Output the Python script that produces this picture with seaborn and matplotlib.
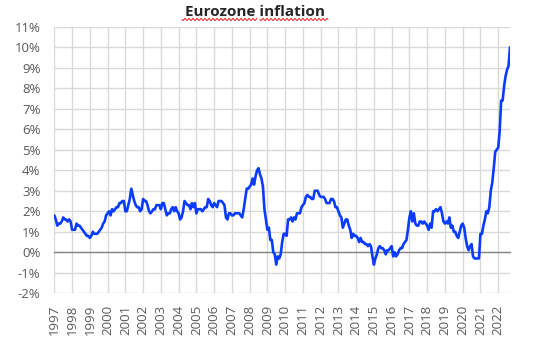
import numpy as np
import pandas as pd
import seaborn as sns
import matplotlib as mpl
import matplotlib.pyplot as plt

sns.set_style('white')
plt.rcParams['font.family'] = ['Open Sans', 'DejaVu Sans']

# euro area HICP, annual rate of change (%), monthly from Jan 1997
infl_1997 = [1.8, 1.6, 1.3, 1.4, 1.4, 1.5, 1.7, 1.6, 1.6, 1.5, 1.6, 1.5]
infl_1998 = [1.1, 1.1, 1.1, 1.4, 1.3, 1.3, 1.2, 1.1, 1.0, 0.9, 0.8, 0.8]
infl_1999 = [0.7, 0.8, 1.0, 0.9, 0.9, 0.9, 1.0, 1.1, 1.2, 1.4, 1.5, 1.8]
infl_2000 = [1.9, 2.0, 1.8, 2.1, 2.0, 2.1, 2.2, 2.2, 2.4, 2.4, 2.5, 2.5]
infl_2001 = [2.0, 2.0, 2.3, 2.6, 3.1, 2.8, 2.5, 2.3, 2.2, 2.2, 2.0, 2.1]
infl_2002 = [2.6, 2.5, 2.5, 2.3, 2.0, 1.9, 2.0, 2.1, 2.1, 2.3, 2.3, 2.3]
infl_2003 = [2.1, 2.4, 2.4, 2.1, 1.8, 1.9, 1.9, 2.1, 2.2, 2.0, 2.2, 2.0]
infl_2004 = [1.9, 1.6, 1.7, 2.0, 2.5, 2.4, 2.3, 2.3, 2.1, 2.4, 2.2, 2.4]
infl_2005 = [1.9, 2.1, 2.1, 2.1, 2.0, 2.1, 2.2, 2.2, 2.6, 2.5, 2.3, 2.2]
infl_2006 = [2.4, 2.3, 2.2, 2.5, 2.5, 2.5, 2.4, 2.3, 1.7, 1.6, 1.9, 1.9]
infl_2007 = [1.8, 1.8, 1.9, 1.9, 1.9, 1.9, 1.8, 1.7, 2.1, 2.6, 3.1, 3.1]
infl_2008 = [3.2, 3.3, 3.6, 3.3, 3.7, 4.0, 4.1, 3.8, 3.6, 3.2, 2.1, 1.6]
infl_2009 = [1.1, 1.2, 0.6, 0.6, 0.0, -0.1, -0.6, -0.2, -0.3, -0.1, 0.5, 0.9]
infl_2010 = [0.9, 0.8, 1.6, 1.6, 1.7, 1.5, 1.7, 1.6, 1.9, 1.9, 1.9, 2.2]
infl_2011 = [2.3, 2.4, 2.7, 2.8, 2.7, 2.7, 2.6, 2.6, 3.0, 3.0, 3.0, 2.8]
infl_2012 = [2.7, 2.7, 2.7, 2.6, 2.4, 2.4, 2.4, 2.6, 2.6, 2.5, 2.2, 2.2]
infl_2013 = [2.0, 1.8, 1.7, 1.2, 1.4, 1.6, 1.6, 1.3, 1.1, 0.7, 0.9, 0.8]
infl_2014 = [0.8, 0.7, 0.5, 0.7, 0.5, 0.5, 0.4, 0.4, 0.3, 0.4, 0.3, -0.2]
infl_2015 = [-0.6, -0.3, -0.1, 0.2, 0.3, 0.2, 0.2, 0.1, -0.1, 0.1, 0.1, 0.2]
infl_2016 = [0.3, -0.2, 0.0, -0.2, -0.1, 0.1, 0.2, 0.2, 0.4, 0.5, 0.6, 1.1]
infl_2017 = [1.7, 2.0, 1.5, 1.9, 1.4, 1.3, 1.3, 1.5, 1.5, 1.4, 1.5, 1.4]
infl_2018 = [1.3, 1.1, 1.4, 1.2, 2.0, 2.0, 2.1, 2.0, 2.1, 2.2, 1.9, 1.5]
infl_2019 = [1.4, 1.5, 1.4, 1.7, 1.2, 1.3, 1.0, 1.0, 0.8, 0.7, 1.0, 1.3]
infl_2020 = [1.4, 1.2, 0.7, 0.3, 0.1, 0.3, 0.4, -0.2, -0.3, -0.3, -0.3, -0.3]
infl_2021 = [0.9, 0.9, 1.3, 1.6, 2.0, 1.9, 2.2, 3.0, 3.4, 4.1, 4.9, 5.0]
infl_2022 = [5.1, 5.9, 7.4, 7.4, 8.1, 8.6, 8.9, 9.1, 10.0]

years = list(range(1997, 2023))
yticks = list(range(-2, 12))

values = (infl_1997 + infl_1998 + infl_1999 + infl_2000 + infl_2001 + infl_2002
          + infl_2003 + infl_2004 + infl_2005 + infl_2006 + infl_2007 + infl_2008
          + infl_2009 + infl_2010 + infl_2011 + infl_2012 + infl_2013 + infl_2014
          + infl_2015 + infl_2016 + infl_2017 + infl_2018 + infl_2019 + infl_2020
          + infl_2021 + infl_2022)

df = pd.DataFrame({'t': 1997 + np.arange(len(values)) / 12, 'infl': values})

fig = plt.figure(figsize=(5.38, 3.54), dpi=100)
ax = fig.add_axes([0.101, 0.1715, 0.847, 0.753])

sns.lineplot(data=df, x='t', y='infl', color='#0a3cff', linewidth=1.9, ax=ax, zorder=5)

ax.set_xlim(df['t'].iloc[0], df['t'].iloc[-1])
ax.set_ylim(-2, 11)
ax.set_yticks(yticks)
ax.set_yticklabels(['{}%'.format(v) for v in yticks])
ax.set_xticks(years)

ax.grid(True, color='#d9d9d9', linewidth=1.0)
ax.set_axisbelow(True)
for s in ['top', 'right', 'left']:
    ax.spines[s].set_visible(False)
ax.spines['bottom'].set_position(('data', 0))
ax.spines['bottom'].set_color('#868686')
ax.spines['bottom'].set_linewidth(1.0)
ax.spines['bottom'].set_zorder(3)

ax.tick_params(axis='y', length=0, pad=10, labelsize=9.5, labelcolor='#595959')
ax.tick_params(axis='x', direction='out', length=3.5, width=1.0, color='#868686',
               labelbottom=False)
ax.set_xlabel('')
ax.set_ylabel('')

# year labels sit under the plot, not on the 0% axis
sec = ax.secondary_xaxis(0.0)
sec.set_xticks(years)
sec.set_xticklabels([str(y) for y in years], rotation=90)
sec.tick_params(length=0, pad=8, labelsize=9.5, labelcolor='#595959')
sec.spines['bottom'].set_visible(False)

fig.text(255 / 538, 1 - 12 / 354, 'Eurozone inflation', ha='center', va='center',
         fontsize=11, fontweight='bold', color='#262626')

# spell-check squiggle under the title words
for x0, x1 in [(182, 257), (260, 328)]:
    xs = np.linspace(x0, x1, 200)
    ys = 19.5 + 1.0 * np.sin((xs - x0) / 4.0 * 2 * np.pi)
    fig.add_artist(mpl.lines.Line2D(xs / 538, 1 - ys / 354, color='#e02020',
                                    linewidth=0.7, transform=fig.transFigure))

fig.savefig('out.png', dpi=100)
